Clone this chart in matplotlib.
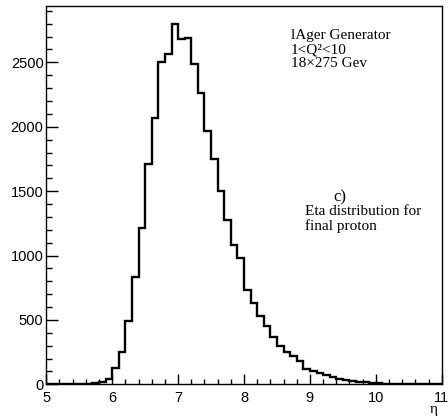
import numpy as np
import matplotlib
matplotlib.use('Agg')
import matplotlib.pyplot as plt
from matplotlib.ticker import MultipleLocator

# eta bins, width 0.1 from 5 to 11
eta_lo = 5.0
eta_hi = 11.0
bin_width = 0.1
counts = [0, 0, 0, 0, 0, 2, 4, 8, 18, 45,
          128, 250, 488, 834, 1212, 1714, 2069, 2501, 2567, 2795,
          2683, 2692, 2489, 2260, 1966, 1746, 1503, 1277, 1084, 980,
          733, 630, 530, 450, 365, 295, 248, 220, 178, 118,
          101, 90, 75, 58, 44, 32, 27, 21, 17, 12,
          8, 6, 3, 2, 1, 1, 0, 0, 0, 0]
edges = eta_lo + bin_width * np.arange(len(counts) + 1)

info_lines = ['lAger Generator', '1<Q\u00b2<10', '18\u00d7275 Gev']
panel_tag = 'c)'
panel_desc = ['Eta distribution for', 'final proton']

H = 416  # figure height in px, text placed from the top

fig = plt.figure(figsize=(4.48, 4.16), dpi=100)
ax = fig.add_axes([0.1033, 0.0762, 0.8827, 0.9101])

ax.stairs(counts, edges, color='black', linewidth=1.7, baseline=0)

ax.set_xlim(eta_lo, eta_hi)
ax.set_ylim(0, 2940)

ax.xaxis.set_major_locator(MultipleLocator(1))
ax.xaxis.set_minor_locator(MultipleLocator(0.2))
ax.yaxis.set_major_locator(MultipleLocator(500))
ax.yaxis.set_minor_locator(MultipleLocator(100))

ax.tick_params(axis='both', which='both', direction='in', top=False, right=False,
               labelsize=10.5, width=1, colors='black')
ax.tick_params(axis='y', which='major', length=8.5, pad=2)
ax.tick_params(axis='y', which='minor', length=4.3)
ax.tick_params(axis='x', which='major', length=7.5, pad=5)
ax.tick_params(axis='x', which='minor', length=3.8)
for lab in ax.get_xticklabels() + ax.get_yticklabels():
    lab.set_family(['Liberation Sans', 'DejaVu Sans'])

for sp in ax.spines.values():
    sp.set_linewidth(1.0)

serif = ['Liberation Serif', 'DejaVu Serif']
for i, line in enumerate(info_lines):
    ax.text(291, H - (39 + i * 14), line, transform=None, fontsize=11,
            family=serif, ha='left', va='baseline')

ax.text(333, H - 201, panel_tag, transform=None, fontsize=12, family=serif,
        ha='left', va='baseline')
for i, line in enumerate(panel_desc):
    ax.text(305, H - (215 + i * 15), line, transform=None, fontsize=11,
            family=serif, ha='left', va='baseline')

fig.text(438 / 448, 1 - 413 / H, '\u03b7', fontsize=11, family=serif,
         ha='right', va='baseline')

fig.savefig('out.png', dpi=100, facecolor='white')
